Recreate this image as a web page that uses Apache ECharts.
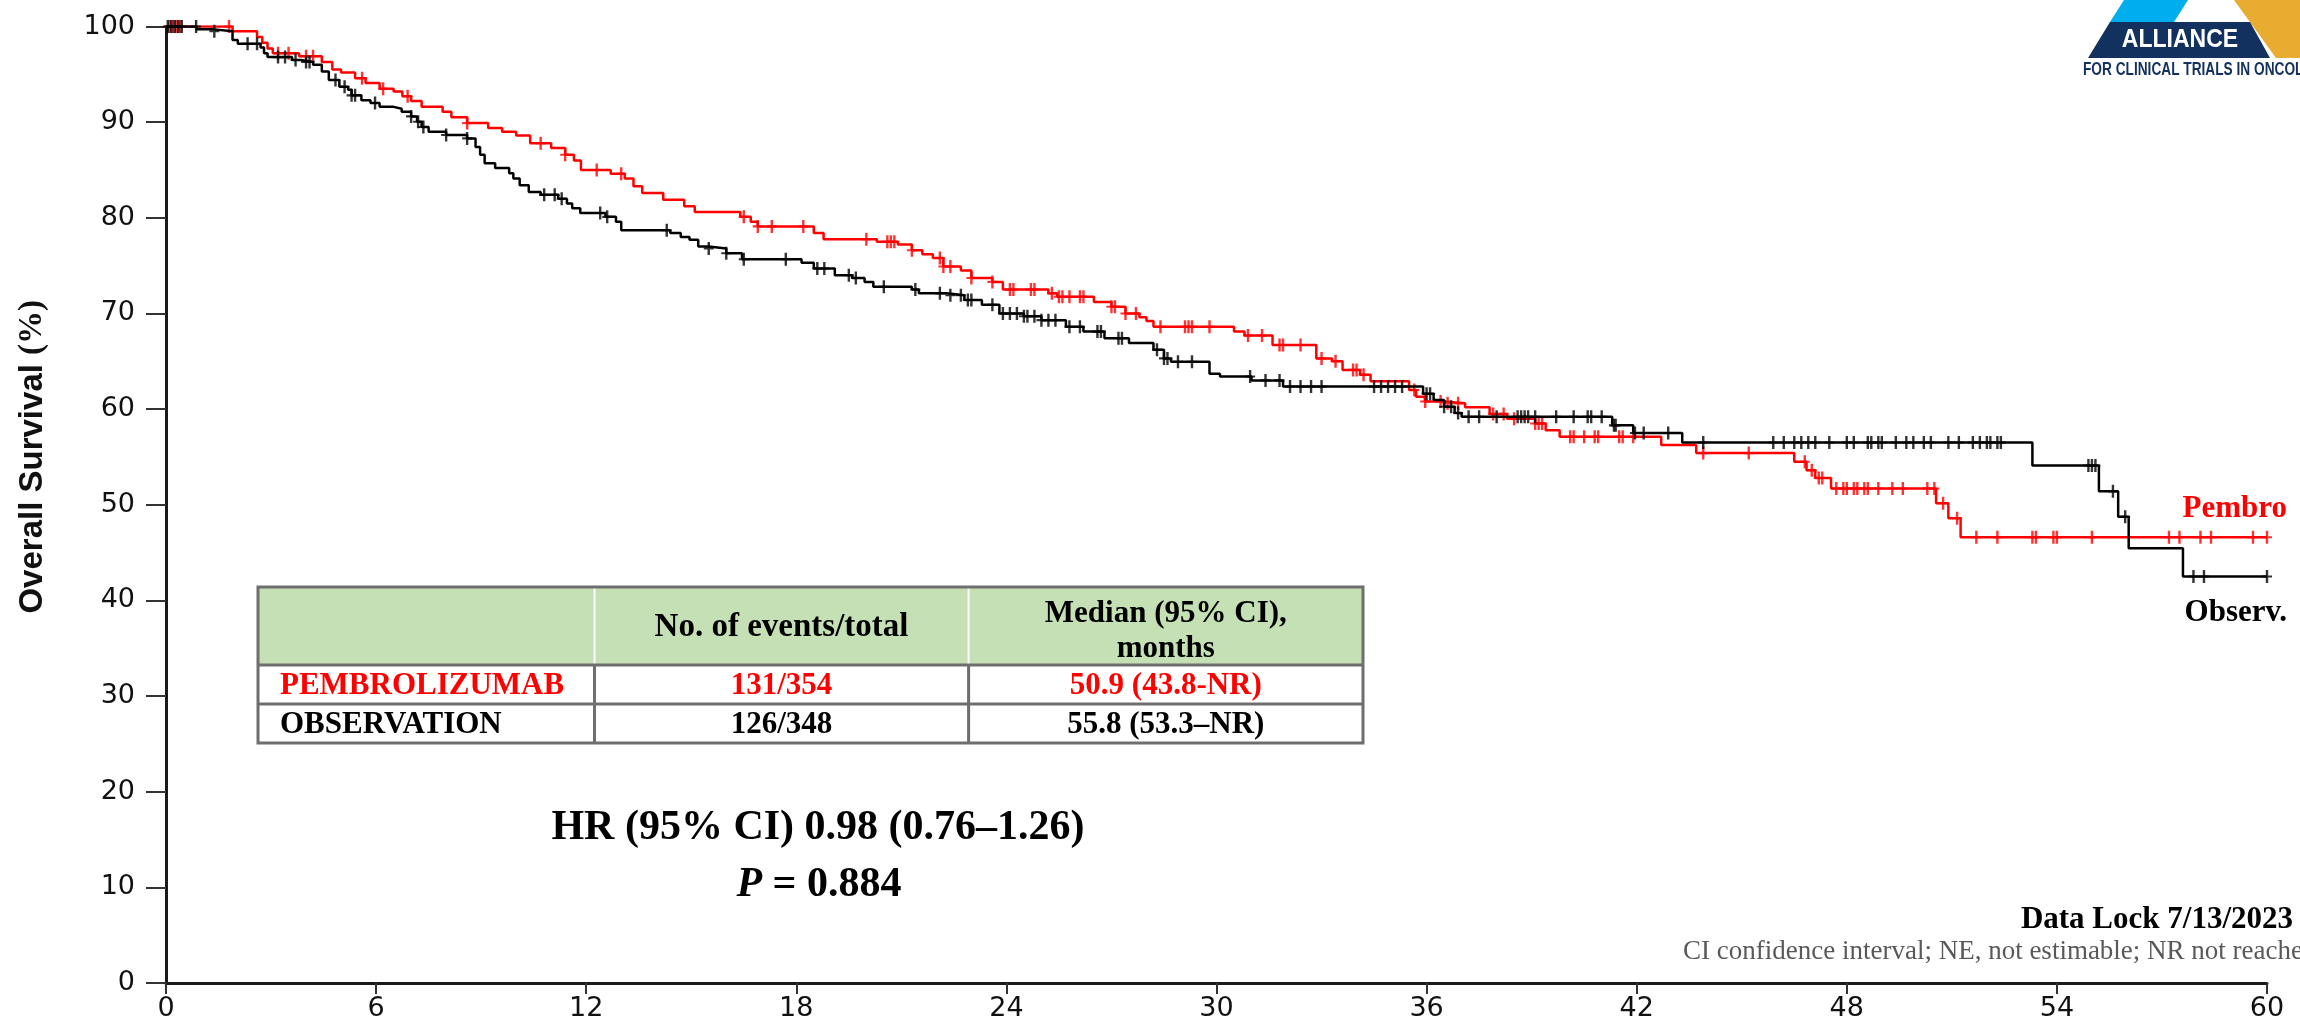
<!DOCTYPE html>
<html>
<head>
<meta charset="utf-8">
<script src="https://cdn.jsdelivr.net/npm/echarts@6/dist/echarts.min.js"></script>
<style>
html,body{margin:0;padding:0;background:#ffffff;}
#chart{width:2300px;height:1023px;}
</style>
</head>
<body>
<div id="chart"></div>
<script>
// ---------- DATA ----------
const xTickValues = [0, 6, 12, 18, 24, 30, 36, 42, 48, 54, 60];
const yTickValues = [0, 10, 20, 30, 40, 50, 60, 70, 80, 90, 100];

// Pembrolizumab KM curve: step times (months) and survival (%)
const pemT = [0, 1.9, 2.6, 2.75, 2.9, 3.05, 3.8, 4.45, 4.75, 5.0, 5.4, 5.7, 6.1, 6.5, 6.75, 7.0, 7.3, 7.9, 8.15, 8.6, 9.2, 9.6, 10.0, 10.4, 11.0, 11.4, 11.65, 11.85, 12.7, 13.1, 13.35, 13.6, 14.2, 14.8, 15.1, 16.4, 16.7, 16.9, 18.5, 18.78, 20.3, 20.9, 21.3, 21.6, 21.9, 22.2, 22.7, 23.0, 23.6, 23.9, 25.2, 25.45, 26.5, 27.0, 27.4, 27.8, 28.0, 28.2, 30.5, 30.8, 31.6, 32.85, 33.3, 33.6, 34.1, 34.4, 35.5, 35.7, 35.95, 36.5, 37.1, 37.8, 38.3, 39.1, 39.4, 39.8, 42.7, 43.7, 46.5, 46.85, 47.1, 47.55, 50.55, 50.9, 51.25, 60.0];
const pemS = [100, 99.5, 98.9, 98.3, 97.7, 97.2, 96.9, 96.3, 95.5, 95.2, 94.6, 94.1, 93.5, 93.2, 92.7, 92.2, 91.6, 91.1, 90.5, 89.9, 89.4, 89.0, 88.6, 87.8, 87.3, 86.6, 86.0, 85.0, 84.6, 84.1, 83.3, 82.6, 81.9, 81.2, 80.6, 80.1, 79.6, 79.1, 78.4, 77.75, 77.5, 77.2, 76.6, 76.2, 75.8, 74.9, 74.5, 73.7, 73.3, 72.5, 72.1, 71.75, 71.2, 70.7, 70.0, 69.6, 69.2, 68.6, 68.1, 67.7, 66.7, 65.3, 65.0, 64.1, 63.6, 62.9, 62.0, 61.3, 60.8, 60.6, 60.2, 59.5, 59.0, 58.5, 57.8, 57.1, 56.25, 55.4, 54.5, 53.6, 52.8, 51.7, 50.15, 48.6, 46.6, 46.6];

// Observation KM curve
const obsT = [0, 0.87, 1.37, 1.9, 2.05, 2.7, 2.8, 2.9, 3.6, 3.85, 4.2, 4.45, 4.65, 4.95, 5.2, 5.3, 5.58, 5.84, 6.1, 6.5, 6.73, 7.0, 7.17, 7.3, 7.5, 8.0, 8.6, 8.84, 8.97, 9.1, 9.4, 9.8, 9.92, 10.1, 10.36, 10.7, 11.2, 11.45, 11.6, 11.83, 12.55, 12.85, 13.0, 14.4, 14.7, 14.95, 15.2, 15.5, 16.0, 16.45, 18.15, 18.5, 19.1, 19.6, 19.95, 20.2, 21.3, 21.5, 22.3, 22.8, 23.3, 23.8, 24.5, 25.0, 25.7, 26.2, 26.8, 27.5, 28.2, 28.5, 28.7, 29.8, 30.1, 31.0, 31.9, 35.9, 36.2, 36.5, 36.8, 37.0, 41.3, 41.9, 43.3, 53.3, 55.2, 55.75, 56.05, 57.6, 60.0];
const obsS = [100, 99.7, 99.5, 98.6, 98.2, 97.8, 97.2, 96.8, 96.5, 96.3, 96.0, 95.3, 94.4, 93.7, 93.4, 92.8, 92.3, 92.0, 91.6, 91.4, 91.1, 90.6, 90.05, 89.5, 89.0, 88.65, 88.3, 87.4, 86.6, 85.7, 85.2, 84.65, 84.1, 83.4, 82.7, 82.4, 82.0, 81.5, 81.0, 80.5, 80.1, 79.6, 78.7, 78.4, 78.0, 77.7, 77.0, 76.8, 76.3, 75.66, 75.3, 74.7, 74.0, 73.7, 73.3, 72.8, 72.5, 72.1, 71.9, 71.4, 70.9, 70.0, 69.7, 69.3, 68.6, 68.1, 67.4, 66.9, 66.2, 65.3, 64.95, 63.7, 63.4, 63.0, 62.35, 61.6, 60.95, 60.25, 59.6, 59.2, 58.3, 57.5, 56.5, 54.1, 51.4, 48.75, 45.45, 42.5, 42.5];

// Censoring times (months)
const pemCensor = [0.1, 0.2, 0.3, 0.4, 1.8, 3.2, 3.5, 4.0, 4.2, 5.6, 6.2, 6.9, 8.6, 10.7, 11.4, 12.3, 13.0, 16.5, 16.9, 17.3, 18.2, 20.0, 20.6, 20.7, 20.8, 21.3, 22.1, 22.2, 22.4, 23.0, 23.6, 24.1, 24.2, 24.7, 24.8, 25.3, 25.5, 25.6, 25.8, 26.1, 26.2, 27.0, 27.1, 27.4, 27.7, 28.4, 29.1, 29.2, 29.3, 29.8, 30.9, 31.3, 31.8, 31.9, 32.4, 33.0, 33.4, 33.9, 34.0, 34.2, 35.65, 35.96, 36.4, 36.6, 36.9, 37.9, 38.2, 38.5, 39.1, 39.2, 39.3, 40.1, 40.2, 40.5, 40.8, 40.9, 41.5, 41.6, 41.9, 43.9, 45.2, 46.8, 47.0, 47.2, 47.3, 47.7, 47.9, 48.0, 48.2, 48.3, 48.5, 48.6, 48.9, 49.3, 49.6, 50.3, 50.5, 50.75, 51.15, 51.7, 52.3, 53.3, 53.4, 53.9, 54.0, 55.0, 57.2, 57.5, 58.1, 58.4, 59.6, 60.0];
const obsCensor = [0.05, 0.15, 0.25, 0.35, 0.45, 0.86, 1.38, 2.33, 2.6, 3.2, 3.4, 3.7, 4.0, 4.1, 4.84, 5.1, 5.3, 5.4, 5.97, 7.0, 7.2, 7.35, 8.0, 8.6, 10.8, 11.1, 11.3, 12.4, 12.6, 14.3, 15.5, 16.0, 16.5, 17.7, 18.6, 18.8, 19.5, 19.7, 20.5, 21.4, 22.1, 22.4, 22.7, 22.9, 23.0, 23.6, 23.9, 24.1, 24.3, 24.5, 24.6, 24.8, 25.0, 25.2, 25.4, 25.8, 26.1, 26.6, 26.7, 27.2, 27.3, 28.3, 28.5, 28.6, 28.9, 29.3, 30.96, 31.4, 31.8, 32.1, 32.4, 32.7, 33.0, 34.5, 34.7, 34.9, 35.1, 35.3, 36.0, 36.1, 36.5, 36.7, 36.9, 37.2, 37.5, 38.0, 38.6, 38.7, 38.8, 38.9, 39.1, 39.7, 40.2, 40.6, 40.7, 41.0, 41.35, 41.4, 41.95, 42.2, 42.9, 43.9, 45.9, 46.2, 46.5, 46.7, 46.9, 47.1, 47.5, 48.0, 48.2, 48.6, 48.7, 48.9, 49.0, 49.4, 49.7, 49.9, 50.2, 50.4, 50.9, 51.2, 51.6, 51.8, 52.0, 52.1, 52.3, 52.4, 54.9, 55.0, 55.1, 55.6, 55.95, 57.9, 58.2, 60.0];

// Table content
const tableHeader = ['', 'No. of events/total', 'Median (95% CI),\nmonths'];
const tableRowPem = ['PEMBROLIZUMAB', '131/354', '50.9 (43.8-NR)'];
const tableRowObs = ['OBSERVATION', '126/348', '55.8 (53.3–NR)'];

const hrText = 'HR (95% CI) 0.98 (0.76–1.26)';
const pText = '{i|P} = 0.884';
const yTitle = '{a|Overall Survival }{b|(%)}';
const footLock = 'Data Lock 7/13/2023';
const footNote = 'CI confidence interval; NE, not estimable; NR not reached';

// ---------- HELPERS ----------
function survAt(T, S, t) {
  let v = S[0];
  for (let i = 0; i < T.length; i++) { if (T[i] <= t) v = S[i]; else break; }
  return v;
}
const pemLine = pemT.map((t, i) => [t, pemS[i]]);
const obsLine = obsT.map((t, i) => [t, obsS[i]]);
const pemMarks = pemCensor.map(t => [t, survAt(pemT, pemS, t)]);
const obsMarks = obsCensor.map(t => [t, survAt(obsT, obsS, t)]);

const plusPath = 'path://M0,4.2 L10,4.2 L10,5.8 L0,5.8 Z M3.8,0 L6.2,0 L6.2,10 L3.8,10 Z';
const serifB = '"Liberation Serif", "Times New Roman", serif';
const sansF = '"DejaVu Sans", "Liberation Sans", sans-serif';

// table geometry
const TL = 258, TR = 1363, TT = 587, TH = 665, TR1 = 704, TB = 743, C1 = 594.5, C2 = 968.6;
const gridGrey = '#6e6e6e';

function tText(txt, x, y, color, align, size, extra) {
  return Object.assign({
    type: 'text', z: 110, x: x, y: y,
    style: { text: txt, font: 'bold ' + (size || 31) + 'px ' + serifB, fill: color || '#000',
             align: align || 'center', verticalAlign: 'middle', lineHeight: 35 }
  }, extra || {});
}
function gLine(x1, y1, x2, y2, color, w) {
  return { type: 'line', z: 105, shape: { x1: x1, y1: y1, x2: x2, y2: y2 },
           style: { stroke: color, lineWidth: w } };
}

const chart = echarts.init(document.getElementById('chart'), null, { renderer: 'canvas' });

const option = {
  animation: false,
  backgroundColor: '#ffffff',
  grid: { left: 166, right: 33, top: 26.5, bottom: 40, containLabel: false, outerBoundsMode: 'none' },
  xAxis: {
    type: 'value', min: 0, max: 60, interval: 6,
    axisLine: { show: true, onZero: false, lineStyle: { color: '#1a1a1a', width: 3 } },
    axisTick: { show: true, length: 11, lineStyle: { color: '#333', width: 2 } },
    axisLabel: { show: true, margin: 12, fontSize: 27, color: '#111', fontFamily: sansF },
    splitLine: { show: false }
  },
  yAxis: {
    type: 'value', min: 0, max: 100, interval: 10,
    axisLine: { show: true, onZero: false, lineStyle: { color: '#1a1a1a', width: 3 } },
    axisTick: { show: true, length: 20, lineStyle: { color: '#333', width: 2 } },
    axisLabel: { show: true, margin: 31, fontSize: 27, color: '#111', fontFamily: sansF },
    splitLine: { show: false },
    name: yTitle,
    nameLocation: 'middle',
    nameRotate: 90,
    nameGap: 117,
    nameTextStyle: {
      padding: [0, 0, 0, 96],
      rich: {
        a: { fontFamily: '"Liberation Sans", Arial, sans-serif', fontWeight: 'bold', fontSize: 33, color: '#111' },
        b: { fontFamily: serifB, fontWeight: 'bold', fontSize: 33, color: '#111' }
      }
    }
  },
  series: [
    { name: 'Pembro', type: 'line', step: 'end', data: pemLine, showSymbol: false, symbol: 'none',
      lineStyle: { color: '#ff0000', width: 2.5 }, z: 3, silent: true },
    { name: 'Pembro censored', type: 'scatter', data: pemMarks, symbol: plusPath, symbolSize: [10, 13],
      itemStyle: { color: '#ff0000' }, z: 4, silent: true },
    { name: 'Observ.', type: 'line', step: 'end', data: obsLine, showSymbol: false, symbol: 'none',
      lineStyle: { color: '#000000', width: 2.5 }, z: 5, silent: true },
    { name: 'Observ. censored', type: 'scatter', data: obsMarks, symbol: plusPath, symbolSize: [10, 13],
      itemStyle: { color: '#000000' }, z: 6, silent: true }
  ],
  graphic: [
    // ---- table ----
    { type: 'rect', z: 100, shape: { x: TL, y: TT, width: TR - TL, height: TH - TT }, style: { fill: '#C5E0B4' } },
    { type: 'rect', z: 100, shape: { x: TL, y: TH, width: TR - TL, height: TB - TH }, style: { fill: '#ffffff' } },
    gLine(C1, TT, C1, TH, '#ffffff', 2),
    gLine(C2, TT, C2, TH, '#ffffff', 2),
    gLine(TL, TH, TR, TH, gridGrey, 3),
    gLine(TL, TR1, TR, TR1, gridGrey, 3),
    gLine(C1, TH, C1, TB, gridGrey, 3),
    gLine(C2, TH, C2, TB, gridGrey, 3),
    { type: 'rect', z: 106, shape: { x: TL, y: TT, width: TR - TL, height: TB - TT },
      style: { fill: 'none', stroke: gridGrey, lineWidth: 3 } },
    tText(tableHeader[1], (C1 + C2) / 2, 627, '#000', 'center', 33),
    tText(tableHeader[2], (C2 + TR) / 2, 631, '#000', 'center', 31),
    tText(tableRowPem[0], 280, 686, '#ff0000', 'left'),
    tText(tableRowPem[1], (C1 + C2) / 2, 686, '#ff0000'),
    tText(tableRowPem[2], (C2 + TR) / 2, 686, '#ff0000'),
    tText(tableRowObs[0], 280, 725, '#000', 'left'),
    tText(tableRowObs[1], (C1 + C2) / 2, 725, '#000'),
    tText(tableRowObs[2], (C2 + TR) / 2, 725, '#000'),
    // ---- HR annotation ----
    tText(hrText, 818, 828, '#000', 'center', 42),
    { type: 'text', z: 110, x: 819, y: 885,
      style: { text: pText, font: 'bold 42px ' + serifB, fill: '#000', align: 'center', verticalAlign: 'middle',
               rich: { i: { font: 'italic bold 42px ' + serifB, fill: '#000' } } } },
    // ---- curve end labels ----
    tText('Pembro', 2287, 509, '#ff0000', 'right', 31),
    tText('Observ.', 2287, 613, '#000', 'right', 31),
    // ---- footer ----
    tText(footLock, 2293, 920, '#000', 'right', 31),
    { type: 'text', z: 110, x: 1683, y: 952,
      style: { text: footNote, font: '27px ' + serifB, fill: '#595959', align: 'left', verticalAlign: 'middle' } },
    // ---- logo ----
    { type: 'polygon', z: 100, shape: { points: [[2110, 22], [2174, 22], [2188, 0], [2124, 0]] }, style: { fill: '#00AEEF' } },
    { type: 'polygon', z: 100, shape: { points: [[2234, 0], [2300, 0], [2300, 58], [2276, 58]] }, style: { fill: '#E8AC30' } },
    { type: 'polygon', z: 101, shape: { points: [[2110, 22], [2250, 22], [2270, 58], [2088, 58]] }, style: { fill: '#13315F' } },
    { type: 'text', z: 102, x: 2180, y: 40, scaleX: 0.92,
      style: { text: 'ALLIANCE', font: 'bold 25px "Liberation Sans", Arial, sans-serif', fill: '#ffffff',
               align: 'center', verticalAlign: 'middle' } },
    { type: 'text', z: 102, x: 2083, y: 70, scaleX: 0.72,
      style: { text: 'FOR CLINICAL TRIALS IN ONCOLOGY', font: 'bold 19px "Liberation Sans", Arial, sans-serif',
               fill: '#13315F', align: 'left', verticalAlign: 'middle' } }
  ]
};
chart.setOption(option);
</script>
</body>
</html>
